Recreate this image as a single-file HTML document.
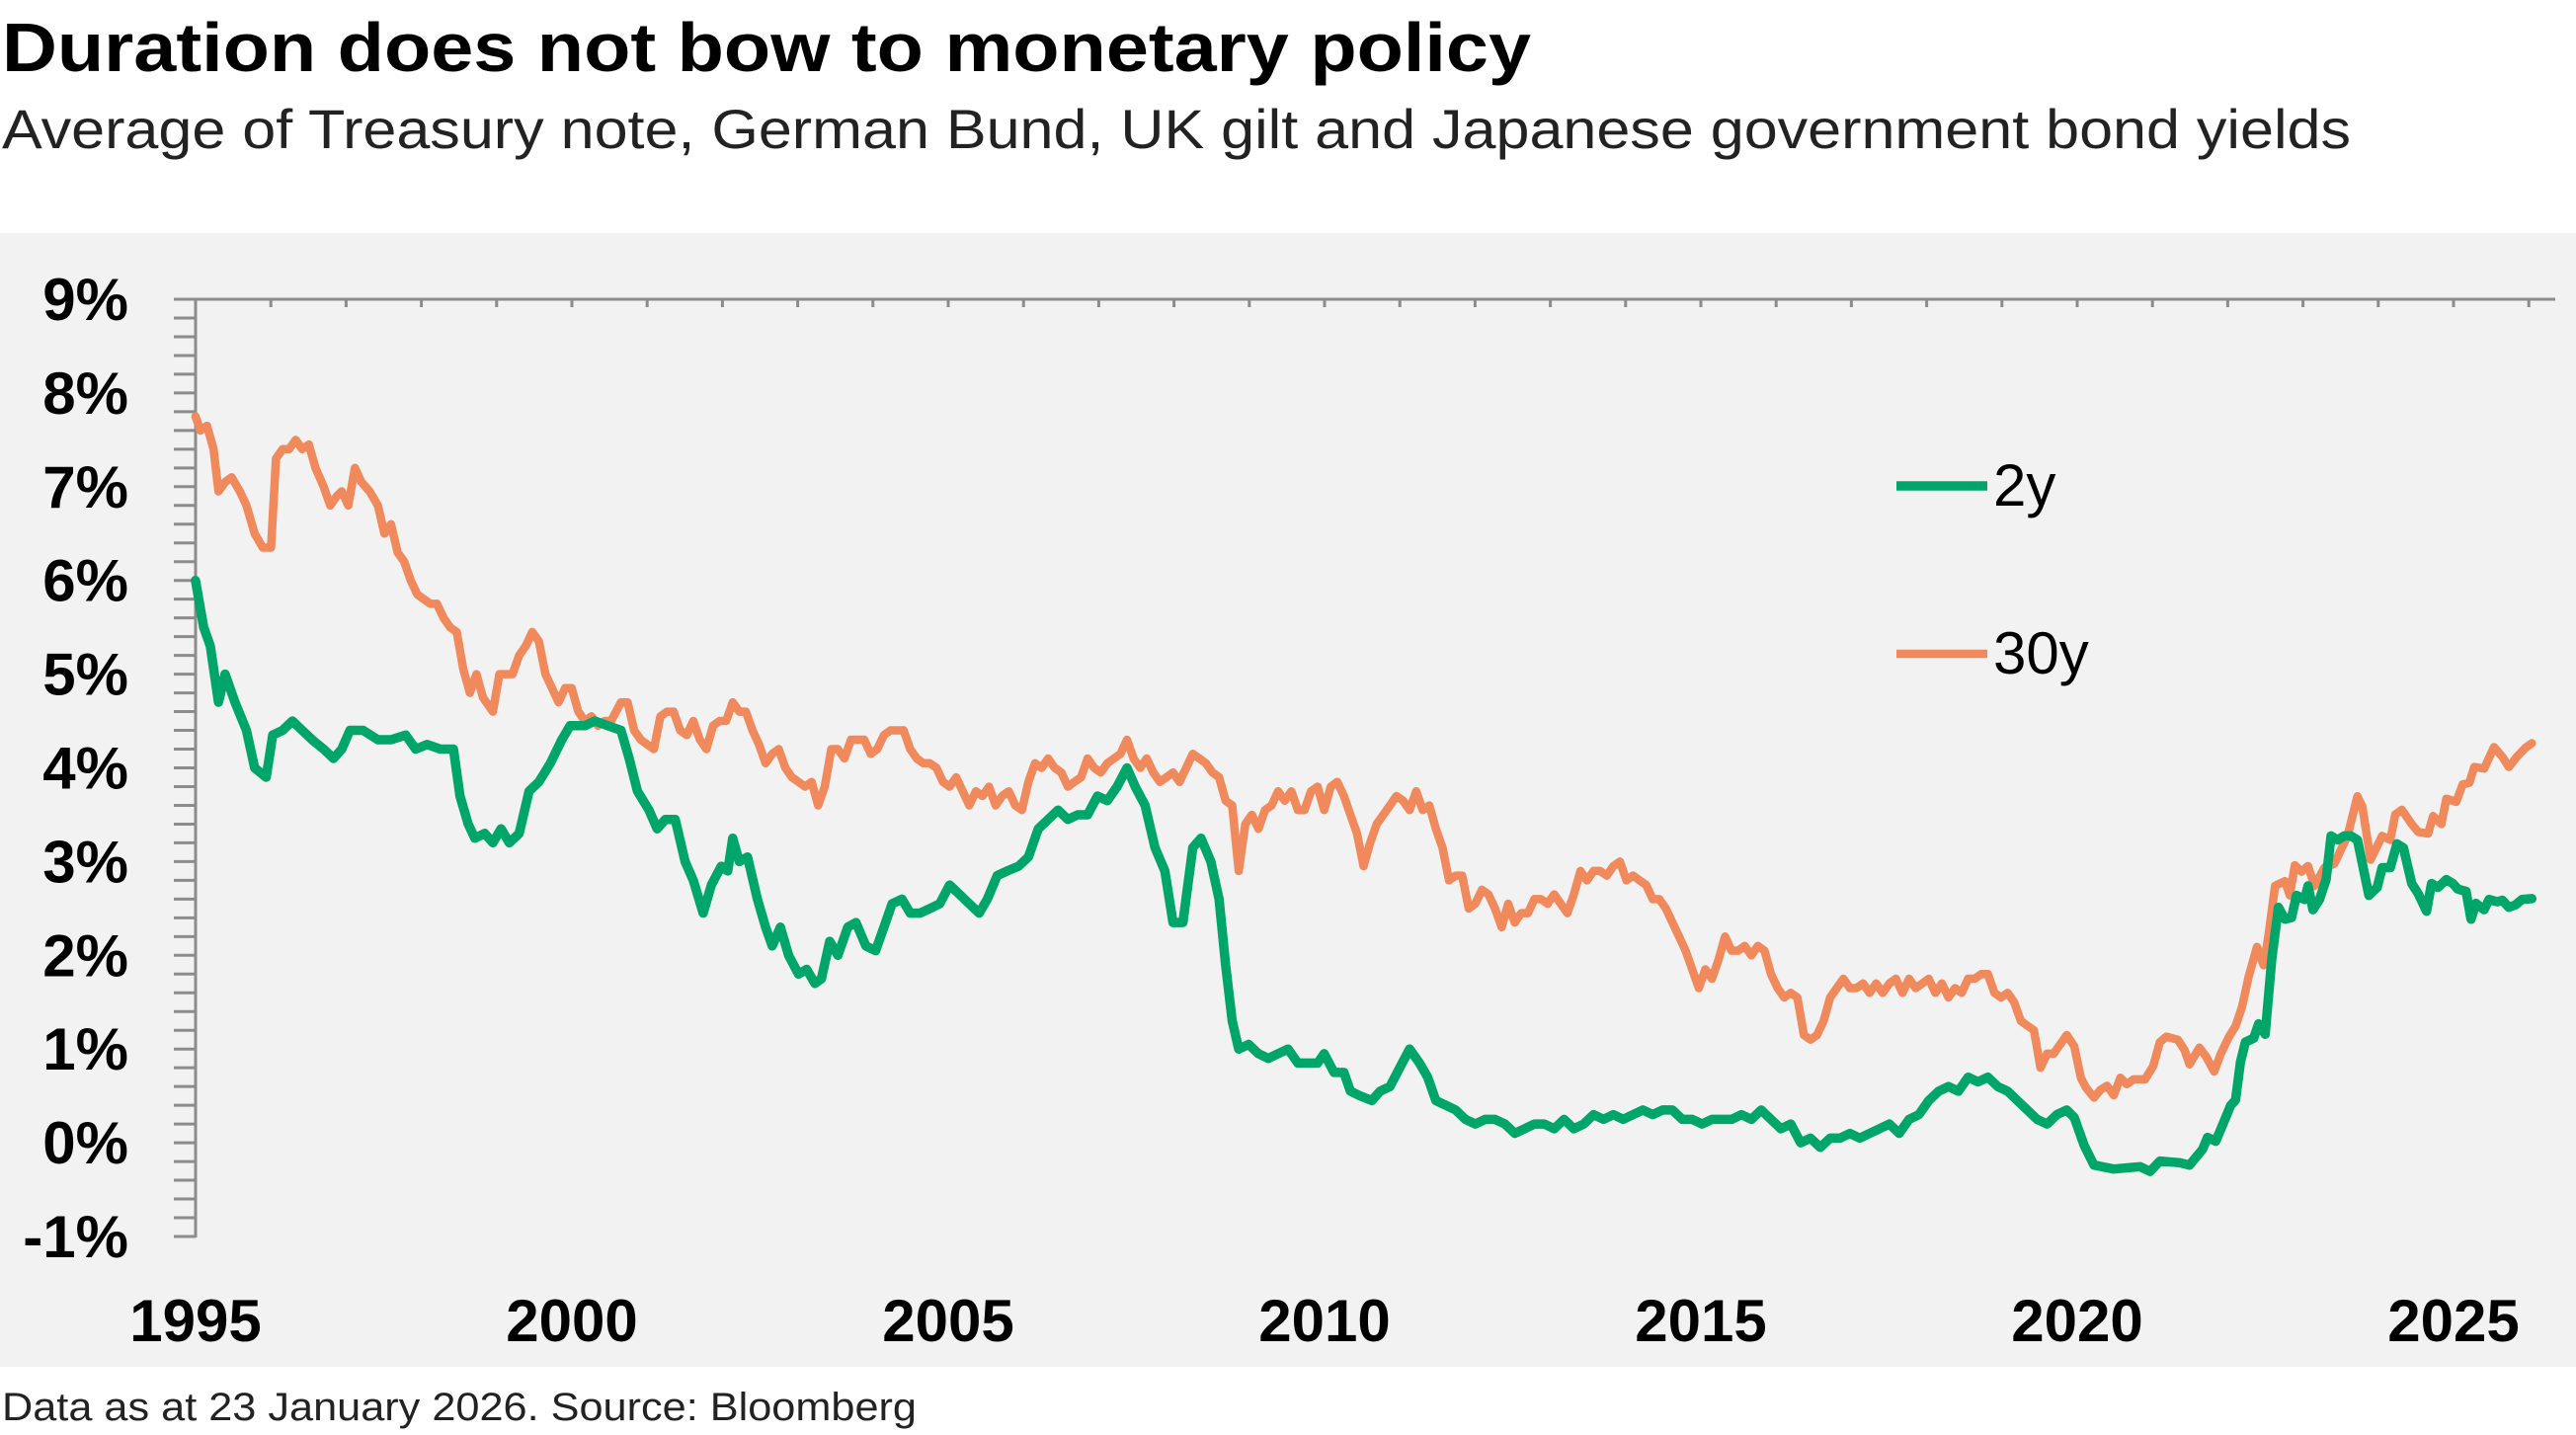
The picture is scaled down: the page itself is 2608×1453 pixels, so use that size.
<!DOCTYPE html>
<html><head><meta charset="utf-8"><style>
html,body{margin:0;padding:0;background:#fff;}
svg{display:block;}
text{font-family:"Liberation Sans",sans-serif;}
</style></head><body>
<svg id="s" width="2608" height="1453" viewBox="0 0 2608 1453" xmlns="http://www.w3.org/2000/svg">
<rect x="0" y="236" width="2608" height="1148" fill="#f2f2f2"/>
<text x="2" y="72" font-size="70" font-weight="bold" textLength="1548" lengthAdjust="spacingAndGlyphs">Duration does not bow to monetary policy</text>
<text x="2" y="150" font-size="56" fill="#222" textLength="2378" lengthAdjust="spacingAndGlyphs">Average of Treasury note, German Bund, UK gilt and Japanese government bond yields</text>
<text x="2" y="1438" font-size="40" fill="#222" textLength="926" lengthAdjust="spacingAndGlyphs">Data as at 23 January 2026. Source: Bloomberg</text>
<g id="ax" stroke="#8c8c8c" stroke-width="3" fill="none"></g>
<g id="yl" font-size="60" font-weight="bold" text-anchor="end"></g>
<g id="xl" font-size="60" font-weight="bold" text-anchor="middle"></g>
<path id="p30" fill="none" stroke="#F08A5D" stroke-width="8.5" stroke-linejoin="round" stroke-linecap="round"/>
<path id="p2" fill="none" stroke="#00A56A" stroke-width="9.5" stroke-linejoin="round" stroke-linecap="round"/>
<line x1="1920" y1="492" x2="2012" y2="492" stroke="#00A56A" stroke-width="9.5"/>
<text x="2018" y="512" font-size="60">2y</text>
<line x1="1920" y1="662" x2="2012" y2="662" stroke="#F08A5D" stroke-width="8.5"/>
<text x="2018" y="682" font-size="60">30y</text>
</svg>
<script>
var NS="http://www.w3.org/2000/svg";
function el(p,t,a,txt){var e=document.createElementNS(NS,t);for(var k in a)e.setAttribute(k,a[k]);if(txt)e.textContent=txt;p.appendChild(e);}
var ax=document.getElementById('ax'),yl=document.getElementById('yl'),xl=document.getElementById('xl');
function Y(v){return 303+(9-v)*94.9;}
el(ax,'line',{x1:176,y1:303,x2:2587,y2:303});
el(ax,'line',{x1:198,y1:303,x2:198,y2:1253});
for(var i=0;i<=50;i++){var y=303+i*94.9/5;el(ax,'line',{x1:176,y1:y,x2:198,y2:y});}
for(var n=0;n<=31;n++){var x=198+n*76.2;if(x>2587)break;el(ax,'line',{x1:x,y1:303,x2:x,y2:311});}
for(var v=9;v>=-1;v--){el(yl,'text',{x:130,y:Y(v)+21},v+'%');}
for(var yr=1995;yr<=2025;yr+=5){el(xl,'text',{x:198+(yr-1995)*76.2,y:1358},''+yr);}
var S=1.6633;
function build(disp,zoom){var pts=[];for(var i=0;i<disp.length;i+=2)pts.push([disp[i]*S,Y(disp[i+1])]);
for(var j=0;j<zoom.length;j+=2)pts.push([2100+zoom[j]/3,200+zoom[j+1]*0.803]);
return 'M'+pts.map(function(p){return p[0].toFixed(1)+','+p[1].toFixed(1)}).join('L');}
var d2=[119,6.0,124,5.5,128,5.3,133,4.7,137,5.0,143,4.7,150,4.4,155,4.0,162,3.9,166,4.35,172,4.4,178,4.5,184,4.4,190,4.3,197,4.2,203,4.1,208,4.2,213,4.4,221,4.4,230,4.3,238,4.3,247,4.35,253,4.2,260,4.25,268,4.2,276,4.2,280,3.7,285,3.4,289,3.25,295,3.3,300,3.2,305,3.35,310,3.2,316,3.3,322,3.75,328,3.85,335,4.05,342,4.3,347,4.45,356,4.45,362,4.5,370,4.45,378,4.4,383,4.1,388,3.75,395,3.55,400,3.35,405,3.45,411,3.45,417,3.0,422,2.8,428,2.45,433,2.75,439,2.95,443,2.9,446,3.25,450,3.0,455,3.05,461,2.6,466,2.3,470,2.1,475,2.3,480,2.0,486,1.8,491,1.85,496,1.7,500,1.75,505,2.15,510,2.0,516,2.3,521,2.35,527,2.1,533,2.05,538,2.3,543,2.55,549,2.6,554,2.45,560,2.45,566,2.5,572,2.55,578,2.75,584,2.65,590,2.55,596,2.45,601,2.6,607,2.85,613,2.9,620,2.95,626,3.05,632,3.35,638,3.45,644,3.55,650,3.45,656,3.5,662,3.5,668,3.7,674,3.65,680,3.8,686,4.0,691,3.8,697,3.6,703,3.15,709,2.9,714,2.35,720,2.35,726,3.15,731,3.25,737,3.0,742,2.6,746,1.9,750,1.3,754,1.0,760,1.05,766,0.95,772,0.9,778,0.95,784,1.0,790,0.85,796,0.85,802,0.85,806,0.95,812,0.75,818,0.75,822,0.55,828,0.5,835,0.45,840,0.55,846,0.6,852,0.8,858,1.0,864,0.85,869,0.7,874,0.45,880,0.4,886,0.35,892,0.25,898,0.2,904,0.25,910,0.25,916,0.2,922,0.1,928,0.15,934,0.2,940,0.2,946,0.15,952,0.25,958,0.15,964,0.2,970,0.3,976,0.25,982,0.3,988,0.25,994,0.3,1000,0.35,1006,0.3,1012,0.35,1018,0.35,1024,0.25,1030,0.25,1036,0.2,1042,0.25,1048,0.25,1054,0.25,1060,0.3,1066,0.25,1072,0.35,1078,0.25,1084,0.15,1090,0.2,1096,0.0,1102,0.05,1108,-0.05,1114,0.05,1120,0.05,1126,0.1,1132,0.05,1138,0.1,1144,0.15,1150,0.2,1156,0.1,1162,0.25,1168,0.3,1174,0.45,1180,0.55,1186,0.6,1192,0.55,1198,0.7,1204,0.65,1210,0.7,1216,0.6,1222,0.55,1228,0.45,1234,0.35,1240,0.25,1246,0.2,1252,0.3,1258,0.35];
var z2=[0,1160,30,1195,60,1220,120,1225,200,1222,230,1228,260,1215,320,1217,350,1220,390,1200,405,1185,430,1190,455,1165,475,1145,490,1138,505,1090,520,1065,545,1060,560,1042,580,1055,600,960,620,895,640,910,660,908,675,880,700,885,710,868,725,898,745,885,765,860,780,805,800,810,820,805,840,805,860,810,875,840,895,880,920,870,935,845,960,845,980,815,1000,820,1025,865,1045,878,1070,900,1085,865,1105,870,1130,860,1150,865,1165,872,1190,875,1205,910,1220,890,1245,898,1260,885,1285,888,1300,886,1320,895,1340,892,1360,885,1390,884];
var d30=[119,7.75,122,7.6,126,7.65,130,7.4,133,6.95,137,7.05,141,7.1,146,6.95,150,6.8,155,6.5,160,6.35,165,6.35,168,7.3,172,7.4,176,7.4,180,7.5,184,7.4,188,7.45,192,7.2,197,7.0,201,6.8,205,6.9,208,6.95,212,6.8,216,7.2,220,7.05,225,6.95,230,6.8,234,6.5,238,6.6,242,6.3,246,6.2,250,6.0,254,5.85,258,5.8,262,5.75,266,5.75,270,5.6,274,5.5,278,5.45,282,5.05,286,4.8,290,5.0,294,4.75,300,4.6,304,5.0,308,5.0,312,5.0,316,5.2,320,5.3,324,5.45,328,5.35,332,5.0,336,4.85,340,4.7,344,4.85,348,4.85,352,4.6,356,4.5,360,4.55,364,4.45,368,4.5,372,4.5,378,4.7,382,4.7,386,4.4,390,4.3,394,4.25,398,4.2,402,4.55,406,4.6,410,4.6,414,4.4,418,4.35,422,4.5,426,4.3,430,4.2,434,4.45,438,4.5,442,4.5,446,4.7,450,4.6,454,4.6,458,4.4,462,4.25,466,4.05,470,4.15,474,4.2,478,4.0,482,3.9,486,3.85,490,3.8,494,3.85,498,3.6,502,3.8,506,4.2,510,4.2,514,4.1,518,4.3,522,4.3,526,4.3,530,4.15,534,4.2,538,4.35,542,4.4,546,4.4,550,4.4,554,4.2,558,4.1,562,4.05,566,4.05,570,4.0,574,3.85,578,3.8,582,3.9,586,3.75,590,3.6,594,3.75,598,3.7,602,3.8,606,3.6,610,3.7,614,3.75,618,3.6,622,3.55,626,3.85,630,4.05,634,4.0,638,4.1,642,4.0,646,3.95,650,3.8,654,3.85,658,3.9,662,4.1,666,4.0,670,3.95,674,4.05,678,4.1,682,4.15,686,4.3,690,4.1,694,4.0,698,4.1,702,3.95,706,3.85,710,3.9,714,3.95,718,3.85,722,4.0,726,4.15,730,4.1,734,4.05,738,3.95,742,3.9,746,3.65,750,3.6,754,2.9,758,3.4,762,3.5,766,3.35,770,3.55,774,3.6,778,3.75,782,3.65,786,3.75,790,3.55,794,3.55,798,3.75,802,3.8,806,3.55,810,3.8,814,3.85,818,3.7,822,3.5,826,3.3,830,2.95,834,3.2,838,3.4,842,3.5,846,3.6,850,3.7,854,3.65,858,3.55,862,3.75,866,3.55,870,3.6,874,3.35,878,3.15,882,2.8,886,2.85,890,2.85,894,2.5,898,2.55,902,2.7,906,2.65,910,2.5,914,2.3,918,2.55,922,2.35,926,2.45,930,2.45,934,2.6,938,2.6,942,2.55,946,2.65,950,2.55,954,2.45,958,2.65,962,2.9,966,2.8,970,2.9,974,2.9,978,2.85,982,2.95,986,3.0,990,2.8,994,2.85,998,2.8,1002,2.75,1006,2.6,1010,2.6,1014,2.5,1018,2.35,1022,2.2,1026,2.05,1030,1.85,1034,1.65,1038,1.85,1042,1.75,1046,1.95,1050,2.2,1054,2.05,1058,2.05,1062,2.1,1066,2.0,1070,2.1,1074,2.05,1078,1.8,1082,1.65,1086,1.55,1090,1.6,1094,1.55,1098,1.15,1102,1.1,1106,1.15,1110,1.3,1114,1.55,1118,1.65,1122,1.75,1126,1.65,1130,1.65,1134,1.7,1138,1.6,1142,1.7,1146,1.6,1150,1.7,1154,1.75,1158,1.6,1162,1.75,1166,1.65,1170,1.7,1174,1.75,1178,1.6,1182,1.7,1186,1.55,1190,1.65,1194,1.6,1198,1.75,1202,1.75,1206,1.8,1210,1.8,1214,1.6,1218,1.55,1222,1.6,1226,1.5,1230,1.3,1234,1.25,1238,1.2,1242,0.8,1246,0.95,1250,0.95,1254,1.05,1258,1.15];
var z30=[0,1070,20,1110,35,1122,60,1135,80,1125,100,1120,120,1132,140,1110,160,1118,180,1112,215,1112,240,1095,260,1065,280,1058,315,1062,335,1075,350,1093,380,1072,400,1083,425,1102,445,1080,470,1058,490,1045,510,1020,530,982,555,945,575,968,590,930,610,868,640,862,655,880,670,842,690,850,710,843,730,868,760,845,790,840,830,805,860,755,875,768,900,835,935,805,960,810,975,778,995,772,1025,790,1045,800,1075,802,1090,780,1115,790,1130,758,1160,762,1180,740,1200,738,1215,718,1245,720,1275,693,1300,705,1320,718,1345,705,1370,694,1390,688];
document.getElementById('p2').setAttribute('d',build(d2,z2));
document.getElementById('p30').setAttribute('d',build(d30,z30));
</script>
</body></html>
